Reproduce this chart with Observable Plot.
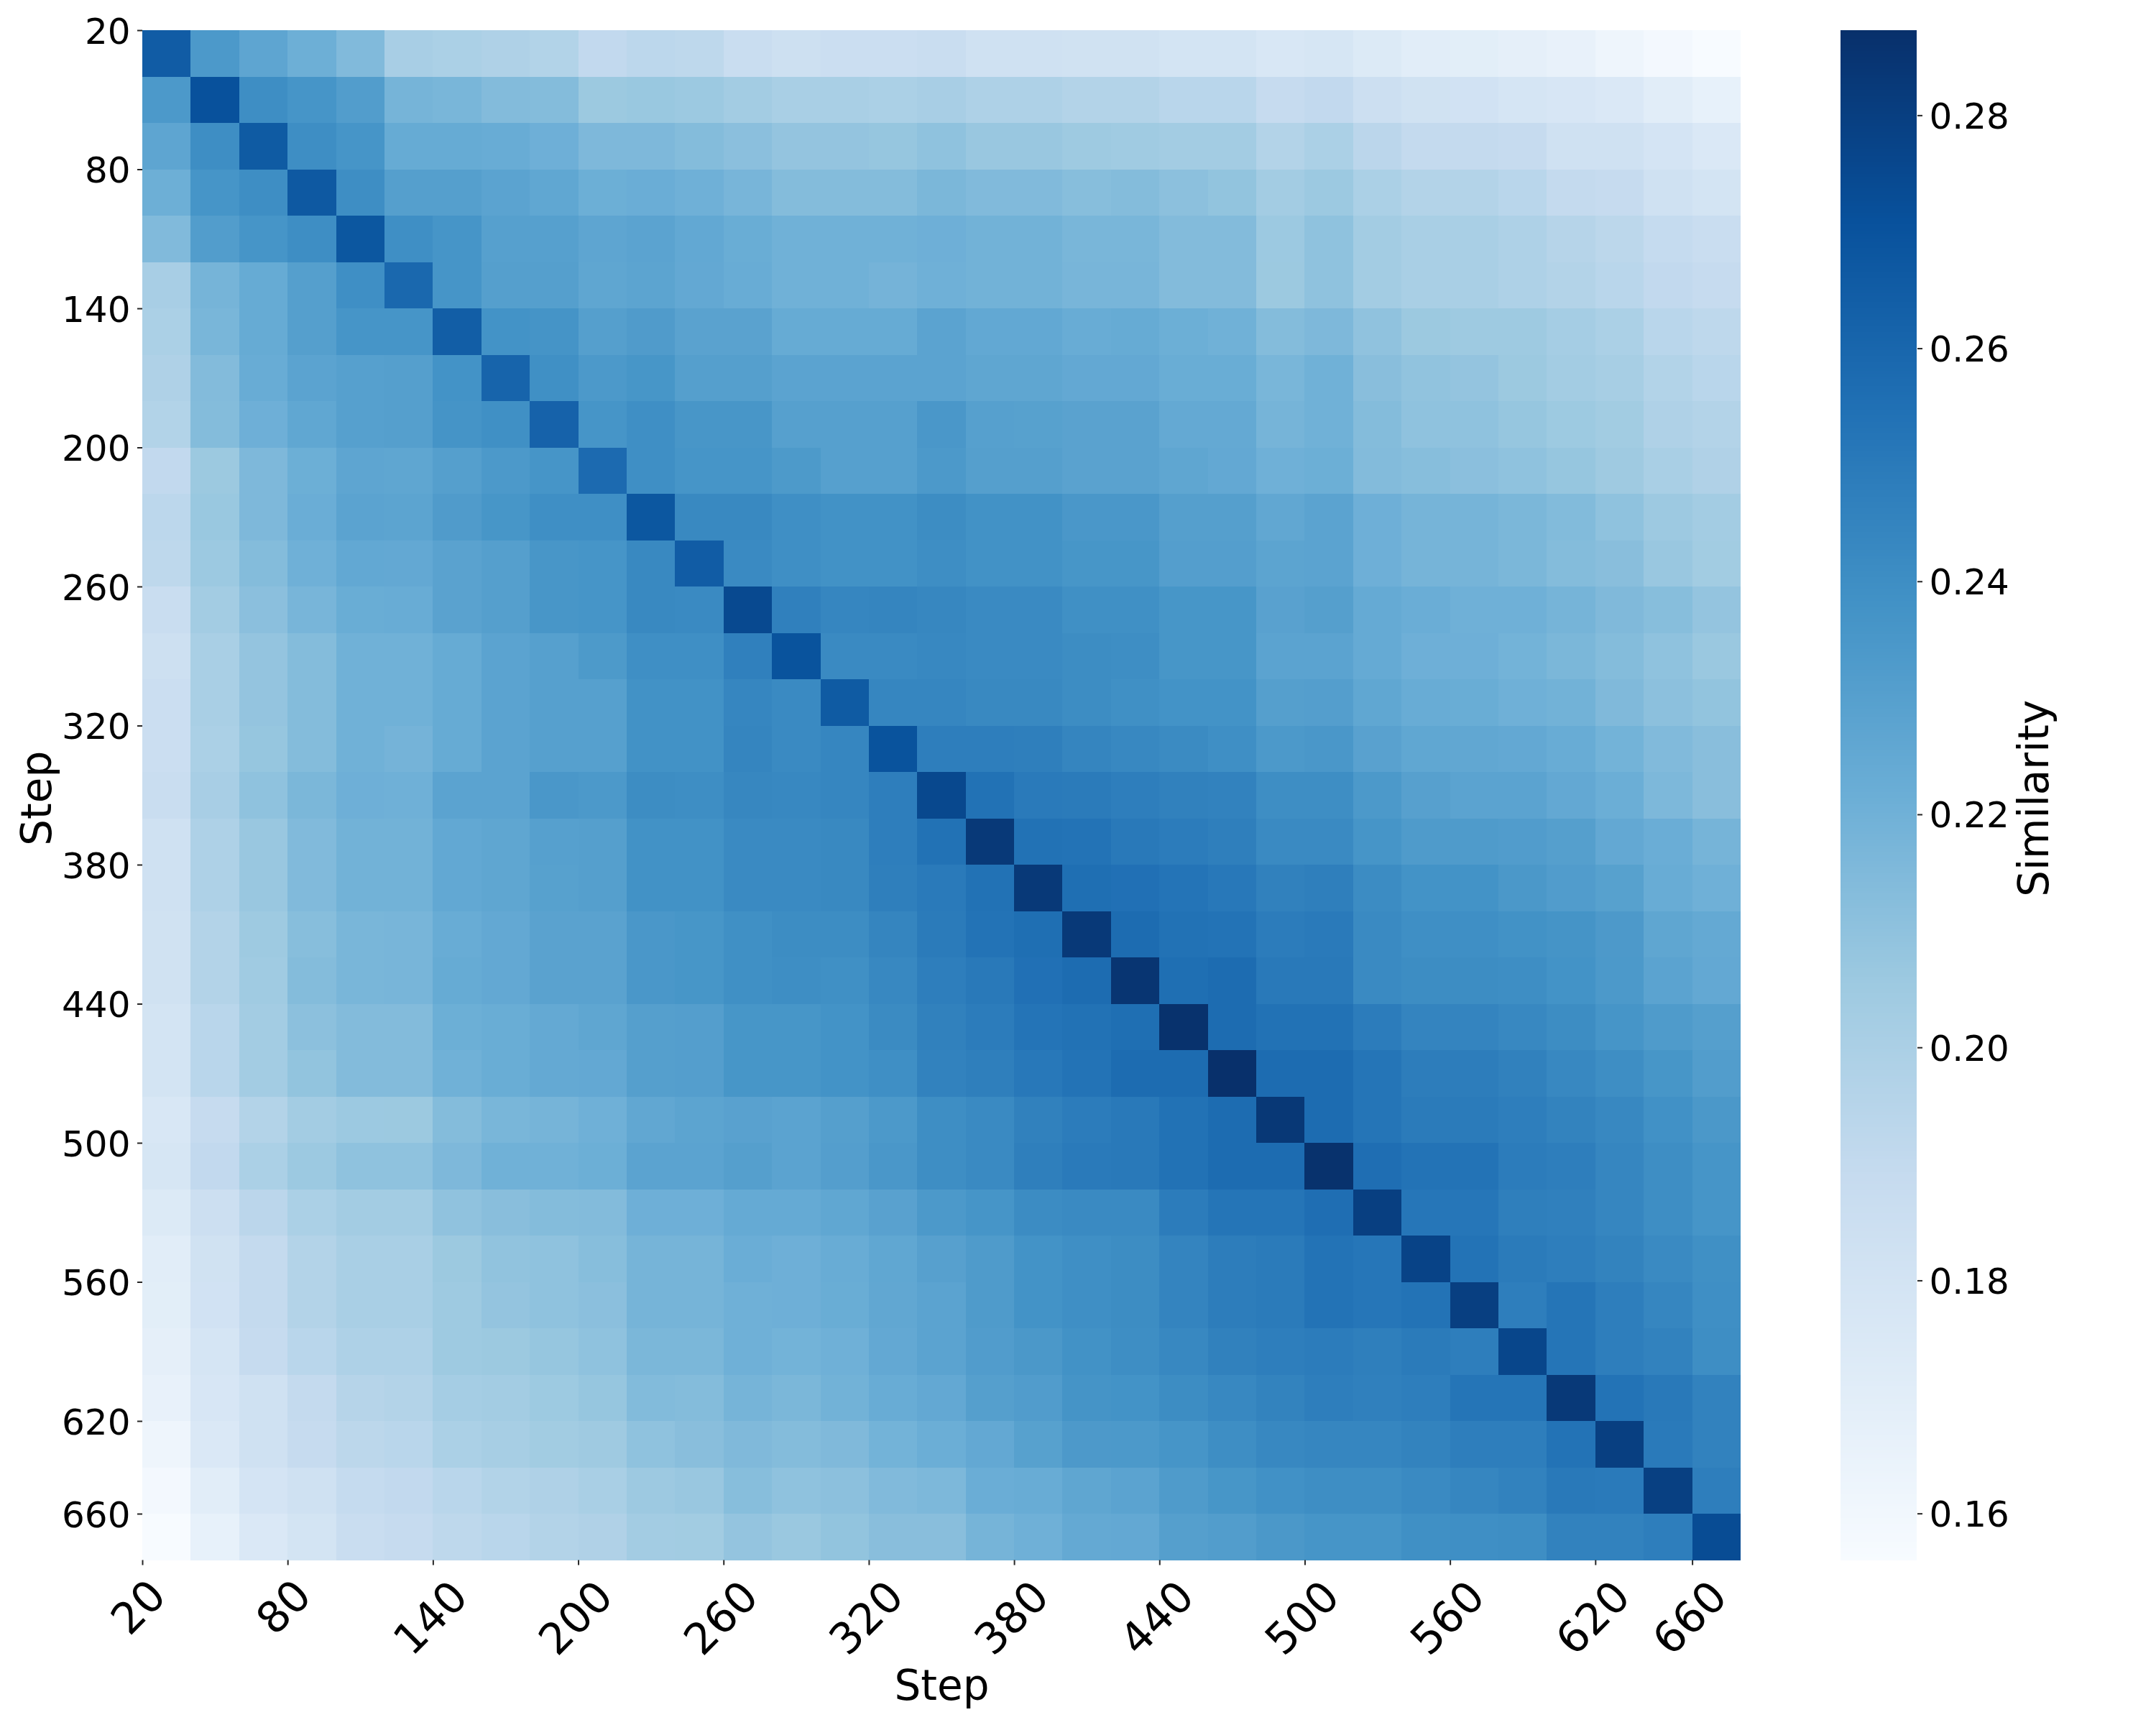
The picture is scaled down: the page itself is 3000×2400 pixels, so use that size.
<!DOCTYPE html>
<html>
<head>
<meta charset="utf-8">
<script src="https://cdn.jsdelivr.net/npm/d3@7"></script>
<script src="https://cdn.jsdelivr.net/npm/@observablehq/plot@0.6"></script>
<style>
html,body{margin:0;padding:0;background:#fff;overflow:hidden}
#fig{position:relative;width:3000px;height:2400px;background:#fff}
#fig svg{position:absolute;top:0;max-width:none}
</style>
</head>
<body>
<div id="fig"></div>
<script>
// Upper triangle of the similarity matrix: each list starts on the diagonal.
const row20=[.265,.234,.227,.221,.2145,.2011,.1999,.1982,.197,.1904,.1929,.192,.1868,.184,.1854,.1854,.1868,.1826,.1826,.182,.182,.18,.18,.1765,.1779,.1738,.1704,.1698,.1678,.1658,.1619,.1586,.156];
const row40=[.271,.24,.2365,.2317,.218,.217,.214,.2135,.206,.2067,.2058,.2031,.2007,.2007,.1999,.2011,.1986,.1986,.1965,.1965,.194,.194,.1888,.1904,.1847,.182,.1813,.1786,.1772,.1752,.1704,.1665];
const row60=[.266,.24,.2365,.2237,.2237,.223,.2208,.2155,.2155,.2135,.2115,.2085,.2085,.2078,.2101,.2068,.2068,.2052,.2045,.2031,.2031,.1965,.1999,.1933,.1896,.1896,.1888,.183,.1826,.1793,.1752];
const row80=[.267,.24,.2305,.2305,.228,.226,.2213,.222,.2204,.2175,.2135,.2135,.2135,.2165,.2147,.2147,.2125,.2135,.211,.209,.203,.2058,.1999,.1965,.1965,.194,.1896,.1888,.1826,.18];
const row100=[.268,.2395,.2365,.23,.23,.227,.228,.2252,.2225,.22,.22,.22,.2208,.2195,.2195,.217,.217,.214,.214,.2058,.2101,.2031,.2007,.2007,.1986,.1953,.193,.1892,.1868];
const row120=[.259,.2365,.2305,.2305,.2265,.2275,.225,.223,.22,.22,.2185,.2204,.2195,.2195,.2175,.2175,.214,.214,.206,.2101,.203,.2007,.2007,.1986,.1965,.194,.1904,.1888];
const row140=[.264,.2375,.237,.2305,.2325,.2285,.2285,.2237,.2237,.2237,.228,.2252,.2252,.2228,.2237,.2213,.22,.2135,.2155,.2097,.206,.2052,.2052,.2023,.1999,.194,.192];
const row160=[.261,.239,.234,.236,.2305,.2305,.228,.228,.228,.228,.2265,.2265,.225,.225,.2225,.2225,.217,.22,.212,.2093,.2085,.206,.203,.2015,.197,.194];
const row180=[.262,.2365,.2395,.2355,.2355,.23,.23,.23,.235,.23,.2295,.2285,.2285,.2245,.2245,.218,.22,.2135,.21,.21,.2078,.2055,.2035,.1982,.1965];
const row200=[.258,.2395,.2365,.2365,.2335,.23,.23,.234,.2305,.2305,.2285,.2285,.2265,.225,.2205,.2212,.214,.2125,.2115,.21,.2078,.205,.2007,.198];
const row220=[.268,.2425,.2425,.2395,.238,.238,.2405,.238,.238,.235,.235,.2305,.2305,.2255,.228,.2208,.218,.218,.2165,.2143,.21,.2056,.203];
const row240=[.265,.2418,.2395,.238,.238,.24,.238,.238,.236,.236,.231,.231,.2275,.228,.2208,.218,.218,.2165,.2135,.212,.2068,.2035];
const row260=[.275,.247,.244,.2445,.2435,.242,.242,.239,.239,.236,.236,.229,.2305,.224,.222,.2204,.2204,.218,.215,.2125,.2085];
const row280=[.27,.2418,.2418,.243,.2418,.2418,.2405,.24,.236,.236,.228,.228,.224,.2208,.2208,.219,.2165,.2135,.21,.2065];
const row300=[.266,.244,.244,.2425,.2425,.2405,.239,.2375,.2375,.2305,.231,.226,.223,.2225,.2204,.2195,.215,.211,.209];
const row320=[.27,.248,.248,.2475,.2445,.243,.2415,.2395,.234,.235,.229,.226,.2255,.225,.2228,.219,.2145,.212];
const row340=[.2755,.254,.25,.2495,.248,.2465,.246,.24,.24,.234,.2297,.228,.228,.225,.2217,.216,.212];
const row360=[.2828,.254,.2535,.2505,.249,.2475,.242,.242,.2365,.233,.233,.232,.2305,.225,.222,.218];
const row380=[.283,.2555,.2548,.253,.251,.2465,.2475,.241,.2375,.2375,.2345,.232,.2295,.223,.2205];
const row400=[.283,.257,.254,.2535,.2488,.25,.242,.2395,.2395,.238,.237,.2337,.2265,.2245];
const row420=[.285,.2555,.257,.2505,.2505,.242,.2405,.2405,.24,.2375,.234,.228,.225];
const row440=[.2865,.257,.254,.254,.2488,.245,.245,.243,.2405,.2365,.233,.2305];
const row460=[.2873,.257,.257,.2525,.2487,.2487,.2465,.243,.2403,.236,.2317];
const row480=[.2835,.257,.2525,.2497,.2497,.2478,.2455,.243,.2385,.2345];
const row500=[.2865,.256,.2537,.2537,.2488,.2478,.2438,.24,.2365];
const row520=[.28,.252,.252,.2475,.247,.2438,.24,.2365];
const row540=[.278,.2535,.2497,.248,.2455,.242,.239];
const row560=[.28,.2478,.2525,.248,.244,.2395];
const row580=[.2765,.2525,.248,.246,.24];
const row600=[.283,.2537,.2505,.246];
const row620=[.28,.25,.246];
const row640=[.2795,.248];
const row660=[.2735];

const upperRows=[row20,row40,row60,row80,row100,row120,row140,row160,row180,row200,row220,row240,row260,row280,row300,row320,row340,row360,row380,row400,row420,row440,row460,row480,row500,row520,row540,row560,row580,row600,row620,row640,row660];
const steps=upperRows.map((_,i)=>20+20*i);
const stepTicks=[20,80,140,200,260,320,380,440,500,560,620,660];
const colorTicks=[.16,.18,.20,.22,.24,.26,.28];
const colorMin=.156, colorMax=.2873;
const blues=["#f7fbff","#deebf7","#c6dbef","#9ecae1","#6baed6","#4292c6","#2171b5","#08519c","#08306b"];
const FONT='"DejaVu Sans"';

// The matrix is symmetric: each value is used for both (i,j) and (j,i).
const cells=[];
upperRows.forEach((row,i)=>row.forEach((v,k)=>{
  const j=i+k;
  cells.push({x:steps[j],y:steps[i],v});
  if(j!==i) cells.push({x:steps[i],y:steps[j],v});
}));

const colorScale={type:"linear",domain:blues.map((_,i)=>colorMin+(colorMax-colorMin)*i/8),range:blues,interpolate:"rgb",clamp:true};
const tickStyle={tickSize:7,strokeWidth:2,stroke:"#262626",tickFormat:()=>"",label:null};

const main=Plot.plot({
  width:3000,height:2400,
  marginLeft:198,marginRight:578,marginTop:42,marginBottom:229.5,
  style:{fontFamily:FONT,background:"transparent"},
  x:{type:"linear",domain:[20,680],axis:null},
  y:{type:"linear",domain:[680,20],range:[2170.5,42],axis:null},
  color:colorScale,
  marks:[
    Plot.rect(cells,{x1:"x",x2:d=>d.x+20,y1:"y",y2:d=>d.y+20,fill:"v",shapeRendering:"crispEdges"}),
    Plot.axisX({ticks:stepTicks,anchor:"bottom",...tickStyle}),
    Plot.axisY({ticks:stepTicks,anchor:"left",...tickStyle}),
    Plot.axisY({ticks:stepTicks,anchor:"left",tickSize:0,tickPadding:17,fontSize:50,fill:"#000",label:null,dy:2}),
    Plot.text(stepTicks.filter(d=>d<100),{x:d=>d,text:d=>String(d),frameAnchor:"bottom",lineAnchor:"middle",textAnchor:"middle",rotate:-45,fontSize:60,fill:"#000",dx:-5,dy:66}),
    Plot.text(stepTicks.filter(d=>d>=100),{x:d=>d,text:d=>String(d),frameAnchor:"bottom",lineAnchor:"middle",textAnchor:"middle",rotate:-45,fontSize:60,fill:"#000",dx:-3,dy:81}),
    Plot.text(["Step"],{frameAnchor:"bottom",lineAnchor:"middle",textAnchor:"middle",fontSize:58,fill:"#000",dy:175}),
    Plot.text(["Step"],{frameAnchor:"left",lineAnchor:"middle",textAnchor:"middle",rotate:-90,fontSize:58,fill:"#000",dx:-146,dy:4})
  ]
});

const rampSteps=d3.range(0,512).map(i=>colorMin+(colorMax-colorMin)*i/512);
const rampStep=(colorMax-colorMin)/512;
const bar=Plot.plot({
  width:450,height:2400,
  marginLeft:111,marginRight:233,marginTop:42,marginBottom:229.5,
  style:{fontFamily:FONT,background:"transparent"},
  x:{type:"linear",domain:[0,1],axis:null},
  y:{type:"linear",domain:[colorMin,colorMax],range:[2170.5,42],axis:null},
  color:colorScale,
  marks:[
    Plot.rect(rampSteps,{x1:0,x2:1,y1:d=>d,y2:d=>d+rampStep,fill:d=>d+rampStep/2,shapeRendering:"crispEdges"}),
    Plot.axisY({ticks:colorTicks,anchor:"right",...tickStyle}),
    Plot.axisY({ticks:colorTicks,anchor:"right",tickSize:0,tickPadding:17,fontSize:50,fill:"#000",tickFormat:d3.format(".2f"),label:null,dy:2}),
    Plot.text(["Similarity"],{frameAnchor:"right",lineAnchor:"middle",textAnchor:"middle",rotate:-90,fontSize:58,fill:"#000",dx:164,dy:4})
  ]
});
bar.style.left="2450px";
main.style.left="0px";
document.getElementById("fig").append(main,bar);
</script>
</body>
</html>
